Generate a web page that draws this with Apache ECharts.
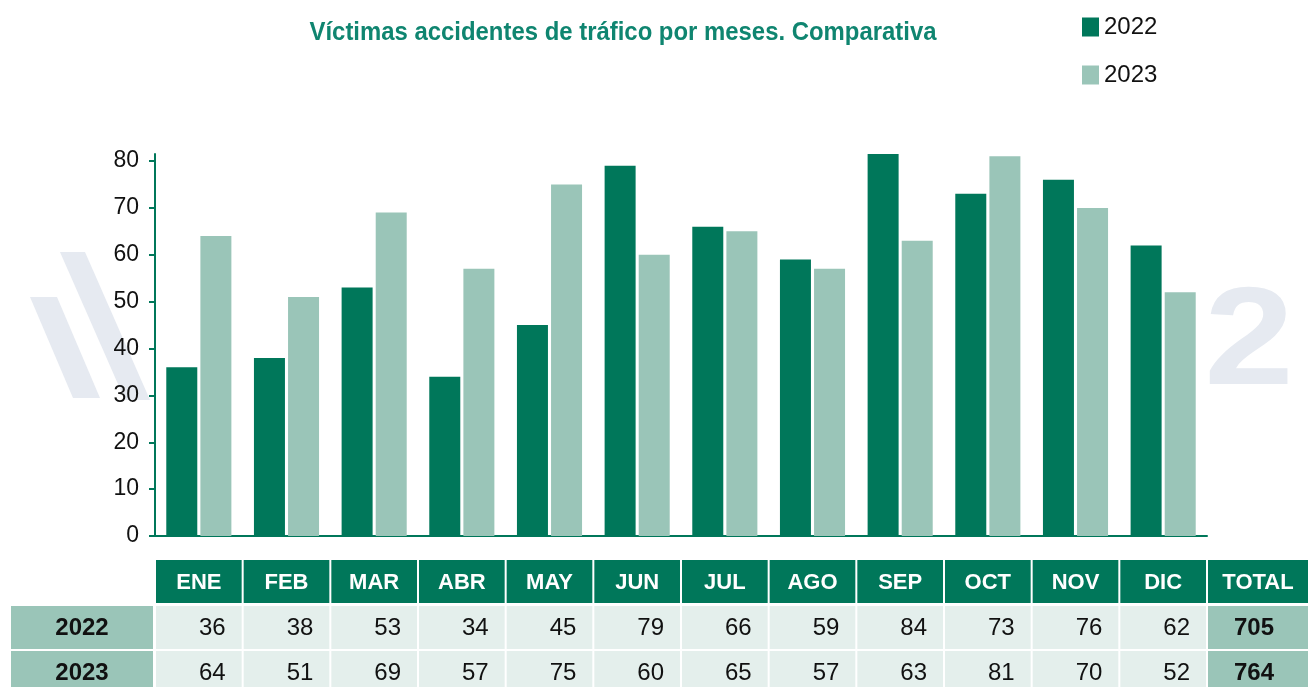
<!DOCTYPE html>
<html>
<head>
<meta charset="utf-8">
<title>Víctimas accidentes de tráfico por meses</title>
<script src="https://cdn.jsdelivr.net/npm/echarts@6/dist/echarts.min.js"></script>
<style>
  html, body { margin: 0; padding: 0; background: #fff; }
  #chart { width: 1308px; height: 687px; }
</style>
</head>
<body>
<div id="chart"></div>
<script>
// datos
const months = ["ENE", "FEB", "MAR", "ABR", "MAY", "JUN", "JUL", "AGO", "SEP", "OCT", "NOV", "DIC"];
const seriesNames = ["2022", "2023"];
const values2022 = [36, 38, 53, 34, 45, 79, 66, 59, 84, 73, 76, 62];
const values2023 = [64, 51, 69, 57, 75, 60, 65, 57, 63, 81, 70, 52];
const totals = [705, 764];
const yTicks = [0, 10, 20, 30, 40, 50, 60, 70, 80];

const TITLE = "Víctimas accidentes de tráfico por meses. Comparativa";
const DARK = "#00775a";
const LIGHT = "#9ac5b8";
const CELL = "#e4efec";
const WATERMARK = "#e6eaf1";
const FONT = "'Liberation Sans', Arial, sans-serif";

const chart = echarts.init(document.getElementById("chart"));

chart.setOption({
  animation: false,
  backgroundColor: "#fff",
  legend: {
    orient: "vertical",
    left: 1077,
    top: 10,
    itemWidth: 17,
    itemHeight: 19,
    itemGap: 24,
    icon: "rect",
    textStyle: { fontSize: 24, color: "#111", fontFamily: FONT },
    data: seriesNames,
  },
  grid: {
    left: 155,
    right: 101,
    top: 154,
    bottom: 151,
    containLabel: false,
  },
  xAxis: {
    type: "category",
    data: months,
    axisTick: { show: false },
    axisLabel: { show: false },
    axisLine: { lineStyle: { color: DARK, width: 2 } },
  },
  yAxis: {
    type: "value",
    min: 0,
    max: 81.5,
    interval: 10,
    splitLine: { show: false },
    axisLine: { show: true, lineStyle: { color: DARK, width: 2 } },
    axisTick: {
      show: true,
      length: 6,
      customValues: yTicks,
      lineStyle: { color: DARK, width: 2 },
    },
    axisLabel: {
      customValues: yTicks,
      margin: 16,
      fontSize: 23,
      color: "#111",
      fontFamily: FONT,
    },
  },
  series: [
    {
      name: seriesNames[0],
      type: "bar",
      data: values2022,
      barWidth: 31,
      barGap: "10%",
      z: 3,
      itemStyle: { color: DARK },
    },
    {
      name: seriesNames[1],
      type: "bar",
      data: values2023,
      barWidth: 31,
      z: 3,
      itemStyle: { color: LIGHT },
    },
  ],
});

// el título va en fuente estrecha: se escala la Liberation Sans en horizontal
function titleScale(targetWidth) {
  const ctx = document.createElement("canvas").getContext("2d");
  ctx.font = "bold 25px 'Liberation Sans'";
  return targetWidth / ctx.measureText(TITLE).width;
}

// tabla de datos debajo del eje
function buildTable() {
  const x0 = chart.convertToPixel({ xAxisIndex: 0 }, 0);
  const x1 = chart.convertToPixel({ xAxisIndex: 0 }, 1);
  const band = x1 - x0;
  const cellW = band - 2;
  const rows = [
    { top: 560, h: 43 },
    { top: 606, h: 43 },
    { top: 651, h: 43 },
  ];
  const rowValues = [values2022, values2023];
  const els = [];

  // marca de agua tenue
  els.push({
    type: "polygon",
    z: -10,
    shape: { points: [[30, 297], [57, 297], [100, 398], [73, 398]] },
    style: { fill: WATERMARK },
  });
  els.push({
    type: "polygon",
    z: -10,
    shape: { points: [[60, 252], [85, 252], [150, 400], [125, 400]] },
    style: { fill: WATERMARK },
  });
  els.push({
    type: "text",
    z: -10,
    x: 1249,
    y: 345,
    scaleX: 1.15,
    style: {
      x: 0,
      y: 0,
      text: "2",
      fontFamily: FONT,
      fontWeight: "bold",
      fontSize: 140,
      fill: WATERMARK,
      textAlign: "center",
      textVerticalAlign: "middle",
    },
  });

  const sx = titleScale(627);
  els.push({
    type: "text",
    z: 10,
    x: 623,
    y: 33,
    scaleX: sx,
    style: {
      x: 0,
      y: 0,
      text: TITLE,
      fontFamily: FONT,
      fontWeight: "bold",
      fontSize: 25,
      fill: "#0f8570",
      textAlign: "center",
      textVerticalAlign: "middle",
    },
  });

  const text = (x, y, str, opts) =>
    els.push({
      type: "text",
      z: 10,
      style: Object.assign(
        {
          x,
          y,
          text: str,
          fontFamily: FONT,
          fontSize: 24,
          fill: "#111",
          textVerticalAlign: "middle",
        },
        opts
      ),
    });

  const rect = (x, y, w, h, fill) =>
    els.push({ type: "rect", shape: { x, y, width: w, height: h }, style: { fill } });

  months.forEach((m, i) => {
    const cx = chart.convertToPixel({ xAxisIndex: 0 }, i);
    const left = cx - cellW / 2;
    rect(left, rows[0].top, cellW, rows[0].h, DARK);
    text(cx, rows[0].top + rows[0].h / 2 + 1, m, {
      fill: "#fff",
      fontWeight: "bold",
      fontSize: 22,
      textAlign: "center",
    });
    rowValues.forEach((vals, r) => {
      const row = rows[r + 1];
      rect(left, row.top, cellW, row.h, CELL);
      text(left + cellW - 16, row.top + row.h / 2 + 1, String(vals[i]), {
        textAlign: "right",
      });
    });
  });

  const lastCx = chart.convertToPixel({ xAxisIndex: 0 }, months.length - 1);
  const totalLeft = lastCx + band / 2 + 1;
  const totalW = 1308 - totalLeft;
  rect(totalLeft, rows[0].top, totalW, rows[0].h, DARK);
  text(totalLeft + totalW / 2, rows[0].top + rows[0].h / 2 + 1, "TOTAL", {
    fill: "#fff",
    fontWeight: "bold",
    fontSize: 22,
    textAlign: "center",
  });

  // columna de etiquetas y totales
  const labelW = x0 - band / 2 - 13;
  seriesNames.forEach((name, r) => {
    const row = rows[r + 1];
    rect(11, row.top, labelW, row.h, LIGHT);
    text(11 + labelW / 2, row.top + row.h / 2 + 1, name, {
      fontWeight: "bold",
      textAlign: "center",
    });
    rect(totalLeft, row.top, totalW, row.h, LIGHT);
    text(totalLeft + totalW / 2 - 4, row.top + row.h / 2 + 1, String(totals[r]), {
      fontWeight: "bold",
      textAlign: "center",
    });
  });

  chart.setOption({ graphic: { elements: els } });
}

buildTable();
</script>
</body>
</html>
